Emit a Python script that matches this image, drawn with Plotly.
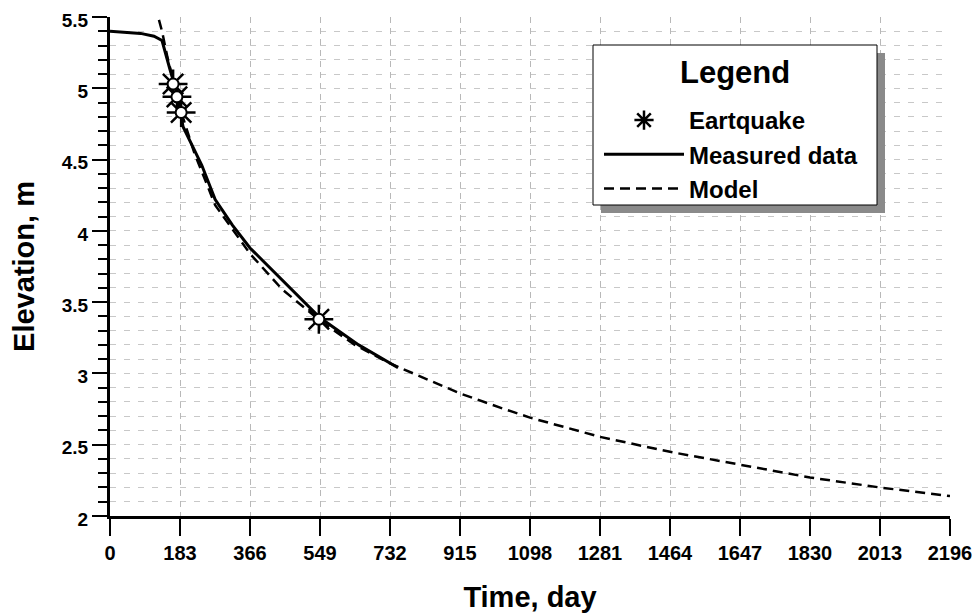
import plotly.graph_objects as go

# ---- data ----
measured_t = [0, 80, 115, 136, 157, 175, 191, 217, 240, 275, 320, 366, 445, 549, 650, 753]
measured_h = [5.40, 5.385, 5.365, 5.335, 5.13, 4.97, 4.73, 4.59, 4.46, 4.22, 4.04, 3.88, 3.67, 3.39, 3.20, 3.04]

model_t = [128, 136, 150, 183, 220, 275, 366, 450, 549, 640, 732, 792, 915, 1020, 1098, 1281, 1464, 1647, 1830, 2013, 2196]
model_h = [5.48, 5.40, 5.22, 4.86, 4.55, 4.18, 3.84, 3.59, 3.37, 3.20, 3.07, 3.00, 2.86, 2.76, 2.69, 2.555, 2.45, 2.36, 2.27, 2.20, 2.14]

quake_t = [165, 175, 186, 546]
quake_h = [5.03, 4.94, 4.83, 3.38]

x_ticks = [0, 183, 366, 549, 732, 915, 1098, 1281, 1464, 1647, 1830, 2013, 2196]
y_ticks = [2, 2.5, 3, 3.5, 4, 4.5, 5, 5.5]
y_tick_text = ["2", "2.5", "3", "3.5", "4", "4.5", "5", "5.5"]

FONT = "Liberation Sans, Arial, sans-serif"

# screen geometry (page body has an 8px margin)
PX0, PX1, PY0, PY1 = 110, 950, 17, 516   # plot area in screen pixels
def px(x):
    return (x - PX0) / (PX1 - PX0)
def py(y):
    return (PY1 - y) / (PY1 - PY0)

fig = go.Figure()

fig.add_trace(go.Scatter(
    x=model_t, y=model_h, mode="lines", name="Model",
    line=dict(color="black", width=2.5, dash="10px,6px"), legendrank=3))
fig.add_trace(go.Scatter(
    x=measured_t, y=measured_h, mode="lines", name="Measured data",
    line=dict(color="black", width=3), legendrank=2))
fig.add_trace(go.Scatter(
    x=quake_t, y=quake_h, mode="markers", name="Eartquake",
    marker=dict(symbol="asterisk-open", size=24, color="black",
                line=dict(color="black", width=2.5)), legendrank=1))
fig.add_trace(go.Scatter(
    x=quake_t, y=quake_h, mode="markers", showlegend=False,
    marker=dict(symbol="circle", size=11, color="white",
                line=dict(color="black", width=2))))

# legend box with shadow
fig.add_shape(type="rect", xref="paper", yref="paper",
              x0=px(601), x1=px(885), y0=py(213), y1=py(53),
              fillcolor="#8a8a8a", line=dict(width=0), layer="above")
fig.add_shape(type="rect", xref="paper", yref="paper",
              x0=px(593), x1=px(877), y0=py(205), y1=py(45),
              fillcolor="white", line=dict(color="black", width=1), layer="above")
fig.add_annotation(text="<b>Legend</b>", xref="paper", yref="paper",
                   x=px(735), y=py(72), xanchor="center", yanchor="middle",
                   showarrow=False,
                   font=dict(family=FONT, size=31, color="black"))

fig.update_layout(
    width=972, height=608, autosize=False,
    margin=dict(l=PX0 - 8, r=972 - (PX1 - 8), t=PY0 - 8, b=608 - (PY1 - 8)),
    paper_bgcolor="white", plot_bgcolor="white",
    font=dict(family=FONT, color="black"),
    showlegend=True,
    legend=dict(
        x=px(599), y=py(98), xanchor="left", yanchor="top",
        bgcolor="rgba(0,0,0,0)", borderwidth=0,
        font=dict(family=FONT, size=24, weight="bold", color="black"),
        itemwidth=80, traceorder="normal",
    ),
    xaxis=dict(
        range=[0, 2196], tickmode="array", tickvals=x_ticks,
        ticktext=[str(v) for v in x_ticks], automargin=False,
        showline=True, linecolor="black", linewidth=3,
        ticks="outside", ticklen=17, tickwidth=2, tickcolor="black",
        ticklabelstandoff=0, ticklabeloverflow="allow",
        tickfont=dict(family=FONT, size=20, weight="bold"),
        showgrid=True, gridcolor="#b8b8b8", gridwidth=1, griddash="6px,5px",
        zeroline=False, mirror=False,
        title=dict(text="Time, day", standoff=24,
                   font=dict(family=FONT, size=29, weight="bold")),
    ),
    yaxis=dict(
        range=[2, 5.5], tickmode="array", tickvals=y_ticks, ticktext=y_tick_text,
        showline=True, linecolor="black", linewidth=3, automargin=False,
        ticks="outside", ticklen=15, tickwidth=2, tickcolor="black",
        ticklabelstandoff=0, ticklabeloverflow="allow", ticklabelshift=3,
        tickfont=dict(family=FONT, size=19, weight="bold"),
        showgrid=True, gridcolor="#c8c8c8", gridwidth=1, griddash="6px,8px",
        zeroline=False,
        minor=dict(dtick=0.1, ticks="outside", ticklen=9, tickwidth=2,
                   tickcolor="black", showgrid=True, gridcolor="#c8c8c8",
                   griddash="6px,8px", gridwidth=1),
        title=dict(text="Elevation, m", standoff=19,
                   font=dict(family=FONT, size=29, weight="bold")),
    ),
)

fig.write_html("out.html")
